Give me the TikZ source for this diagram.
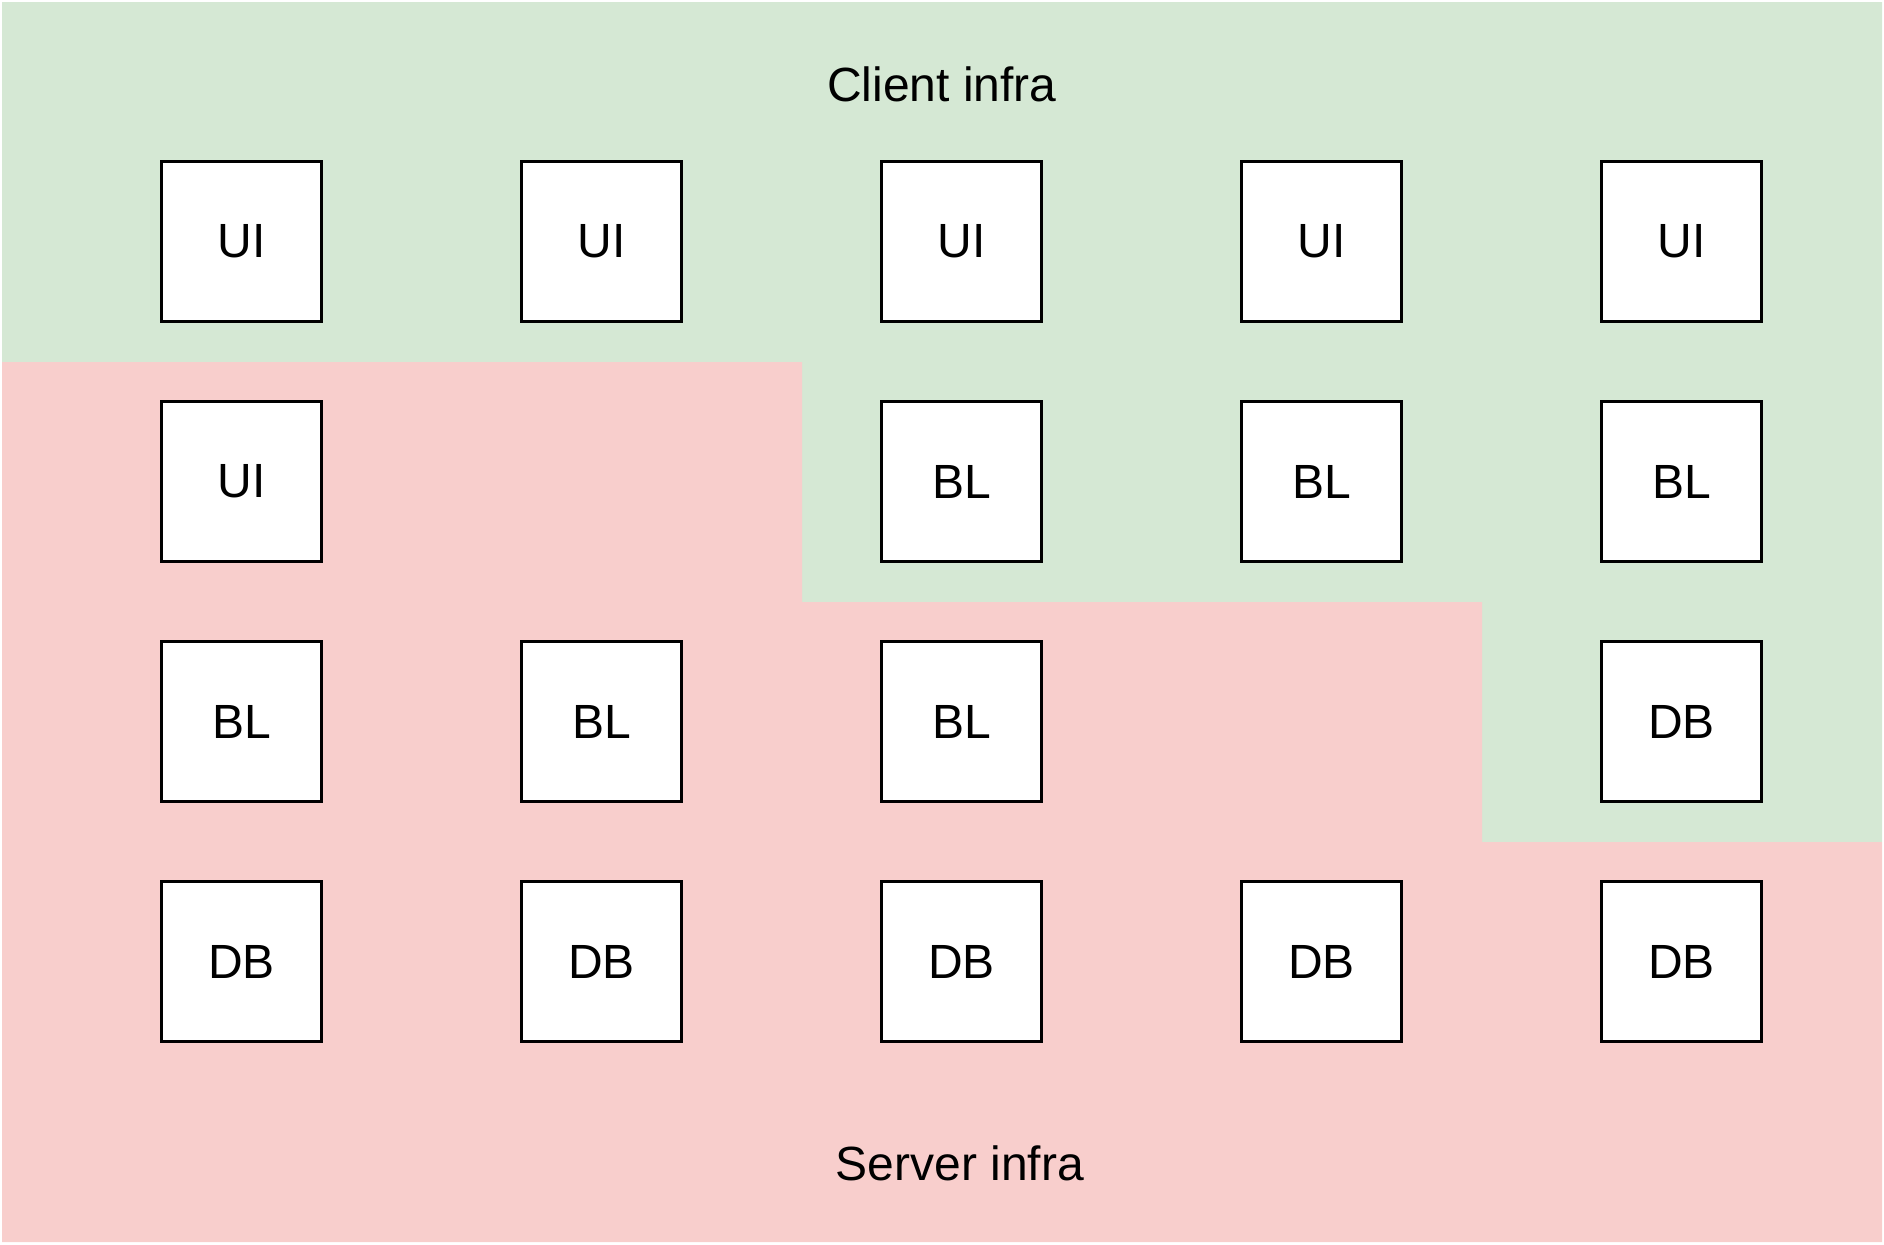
\documentclass[tikz,border=0pt]{standalone}
\usepackage{fontspec}
\setmainfont{Liberation Sans}
\definecolor{clientgreen}{HTML}{D5E8D4}
\definecolor{serverred}{HTML}{F8CECC}
\begin{document}
\begin{tikzpicture}[x=0.5pt,y=-0.5pt,
  cell/.style={draw=black,fill=white,line width=1.6pt,minimum size=80pt,inner sep=0pt,font=\fontsize{24}{28}\selectfont},
  zonelabel/.style={font=\fontsize{24}{28}\selectfont,inner sep=0pt}]
\useasboundingbox (0,0) rectangle (1884,1244);
% zones
\fill[clientgreen] (2,2) -- (1882,2) -- (1882,842) -- (1482,842) -- (1482,602) -- (802,602) -- (802,362) -- (2,362) -- cycle;
\fill[serverred] (2,362) -- (802,362) -- (802,602) -- (1482,602) -- (1482,842) -- (1882,842) -- (1882,1242) -- (2,1242) -- cycle;
\node[zonelabel] (client) at (942,84) {Client infra};
\node[zonelabel] (server) at (960,1163) {Server infra};
% row 1
\node[cell] (r1c1) at (241.5,241.5) {UI};
\node[cell] (r1c2) at (601.5,241.5) {UI};
\node[cell] (r1c3) at (961.5,241.5) {UI};
\node[cell] (r1c4) at (1321.5,241.5) {UI};
\node[cell] (r1c5) at (1681.5,241.5) {UI};
% row 2
\node[cell] (r2c1) at (241.5,481.5) {UI};
\node[cell] (r2c3) at (961.5,481.5) {BL};
\node[cell] (r2c4) at (1321.5,481.5) {BL};
\node[cell] (r2c5) at (1681.5,481.5) {BL};
% row 3
\node[cell] (r3c1) at (241.5,721.5) {BL};
\node[cell] (r3c2) at (601.5,721.5) {BL};
\node[cell] (r3c3) at (961.5,721.5) {BL};
\node[cell] (r3c5) at (1681.5,721.5) {DB};
% row 4
\node[cell] (r4c1) at (241.5,961.5) {DB};
\node[cell] (r4c2) at (601.5,961.5) {DB};
\node[cell] (r4c3) at (961.5,961.5) {DB};
\node[cell] (r4c4) at (1321.5,961.5) {DB};
\node[cell] (r4c5) at (1681.5,961.5) {DB};
\end{tikzpicture}
\end{document}
